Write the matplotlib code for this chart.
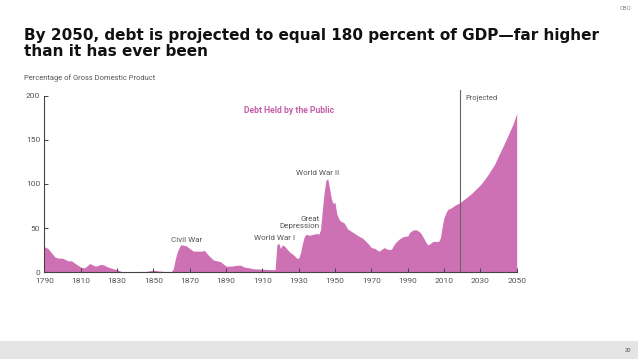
import matplotlib
matplotlib.use("Agg")
import matplotlib.pyplot as plt
from matplotlib.patches import Rectangle

# --------------------------------------------------------
#  Data
# --------------------------------------------------------

years = [1790, 1792, 1794, 1796, 1798, 1800, 1802, 1803, 1805, 1807, 1810,
         1812, 1814, 1815, 1816, 1818, 1820, 1821, 1823, 1825, 1828, 1830,
         1833, 1835, 1838, 1840, 1843, 1846, 1850, 1853, 1856, 1860, 1861,
         1862, 1863, 1864, 1865, 1866, 1868, 1870, 1872, 1875, 1877, 1878,
         1880, 1883, 1885, 1887, 1890, 1893, 1896, 1898, 1900, 1903, 1905,
         1910, 1915, 1917, 1918, 1919, 1920, 1921, 1922, 1925, 1927, 1929,
         1930, 1931, 1932, 1933, 1934, 1936, 1938, 1940, 1941, 1942, 1943,
         1944, 1945, 1946, 1947, 1948, 1949, 1950, 1951, 1952, 1953, 1955,
         1957, 1960, 1963, 1965, 1968, 1970, 1972, 1974, 1975, 1977, 1979,
         1981, 1983, 1985, 1987, 1989, 1990, 1991, 1993, 1995, 1997, 1999,
         2000, 2001, 2002, 2004, 2007, 2008, 2009, 2010, 2011, 2012, 2014,
         2016, 2018, 2019,
         2020, 2022, 2025, 2028, 2030, 2033, 2035, 2038, 2040, 2043, 2045,
         2048, 2050]
debt_pct = [29, 27, 22, 17, 16, 16, 14, 13, 13, 10, 6,
            5, 8, 10, 9, 7, 8, 9, 8, 6, 4, 3,
            0.5, 0, 0.2, 0.3, 1, 1, 2.5, 1.5, 1, 1, 4,
            14, 22, 27, 31, 31, 30, 27, 24, 24, 24, 25,
            20, 14, 13, 12, 7, 7, 8, 8, 6, 5, 4,
            3.5, 3, 3, 31, 33, 27, 31, 30, 23, 20, 16,
            16, 22, 32, 40, 43, 42, 43, 44, 43, 48, 70,
            90, 104, 106, 95, 83, 78, 79, 66, 61, 58, 56,
            49, 45, 41, 39, 33, 28, 27, 24, 25, 28, 26,
            26, 33, 37, 40, 41, 41, 45, 48, 48, 45, 38,
            34, 31, 32, 35, 35, 39, 52, 62, 67, 71, 73,
            76, 78, 79,
            81, 84, 89, 95, 99, 107, 113, 123, 132, 145, 154,
            168, 180]

x_ticks = [1790, 1810, 1830, 1850, 1870, 1890, 1910, 1930, 1950, 1970,
           1990, 2010, 2030, 2050]
y_ticks = [0, 50, 100, 150, 200]
projection_start = 2019

events = ["Civil War", "World War I", "Great\nDepression", "World War II"]

# --------------------------------------------------------
#  Figure
# --------------------------------------------------------

W, H = 638, 359
FILL = "#CE71B4"
GREY = "#555555"


def fx(x):
    return x / W


def fy(y):
    return 1 - y / H


fig = plt.figure(figsize=(W / 100, H / 100), dpi=100)
fig.patch.set_facecolor("white")

ax = fig.add_axes([fx(44.3), fy(272.3), (516.7 - 44.3) / W, (272.3 - 95.7) / H])
ax.fill_between(years, debt_pct, 0, color=FILL, linewidth=0)
ax.set_xlim(1790, 2050)
ax.set_ylim(0, 200)
ax.set_xticks(x_ticks)
ax.set_yticks(y_ticks)
ax.tick_params(direction="in", length=3, width=0.7, colors="#444444",
               labelsize=6.0, labelcolor=GREY)
ax.tick_params(axis="x", pad=4)
ax.tick_params(axis="y", pad=3)
for lab in ax.get_xticklabels() + ax.get_yticklabels():
    lab.set_fontfamily("Roboto")
for side in ("top", "right"):
    ax.spines[side].set_visible(False)
for side in ("left", "bottom"):
    ax.spines[side].set_color("#444444")
    ax.spines[side].set_linewidth(0.8)

# projection marker
ax.plot([projection_start, projection_start], [0, 206], color="#666666",
        lw=0.8, clip_on=False)
ax.text(projection_start + 2.6, 197, "Projected", fontsize=5.4, color=GREY,
        family="Roboto", va="center", ha="left")

ax.text(1924.5, 183, "Debt Held by the Public", fontsize=6.2, color="#C45FAA",
        family="Roboto", weight="bold", ha="center", va="center")

ax.text(1868.5, 37, events[0], fontsize=5.8, color=GREY, family="Roboto",
        ha="center", va="center")
ax.text(1916.5, 39, events[1], fontsize=5.8, color=GREY, family="Roboto",
        ha="center", va="center")
ax.text(1941.5, 56, events[2], fontsize=5.8, color=GREY, family="Roboto",
        ha="right", va="center", multialignment="right", linespacing=1.15)
ax.text(1940.5, 113, events[3], fontsize=5.8, color=GREY, family="Roboto",
        ha="center", va="center")

# titles
title_kw = dict(fontsize=11.0, weight="bold", family="DejaVu Sans",
                color="#111111", ha="left", va="baseline")
fig.text(fx(24), fy(40), "By 2050, debt is projected to equal 180 percent of GDP\u2014far higher",
         **title_kw)
fig.text(fx(24), fy(56.5), "than it has ever been", **title_kw)
fig.text(fx(24), fy(78), "Percentage of Gross Domestic Product", fontsize=5.4,
         color=GREY, family="Roboto", ha="left", va="center")
fig.text(fx(631), fy(9), "CBO", fontsize=4.2, color="#888888", family="Roboto",
         ha="right", va="center")

# footer band
fig.patches.append(Rectangle((0, 0), 1, 18 / H, transform=fig.transFigure,
                             facecolor="#E4E4E4", edgecolor="none", zorder=0))
fig.text(fx(631), fy(351), "20", fontsize=4.2, color="#555555", family="Roboto",
         ha="right", va="center")

fig.savefig("out.png", dpi=100)
